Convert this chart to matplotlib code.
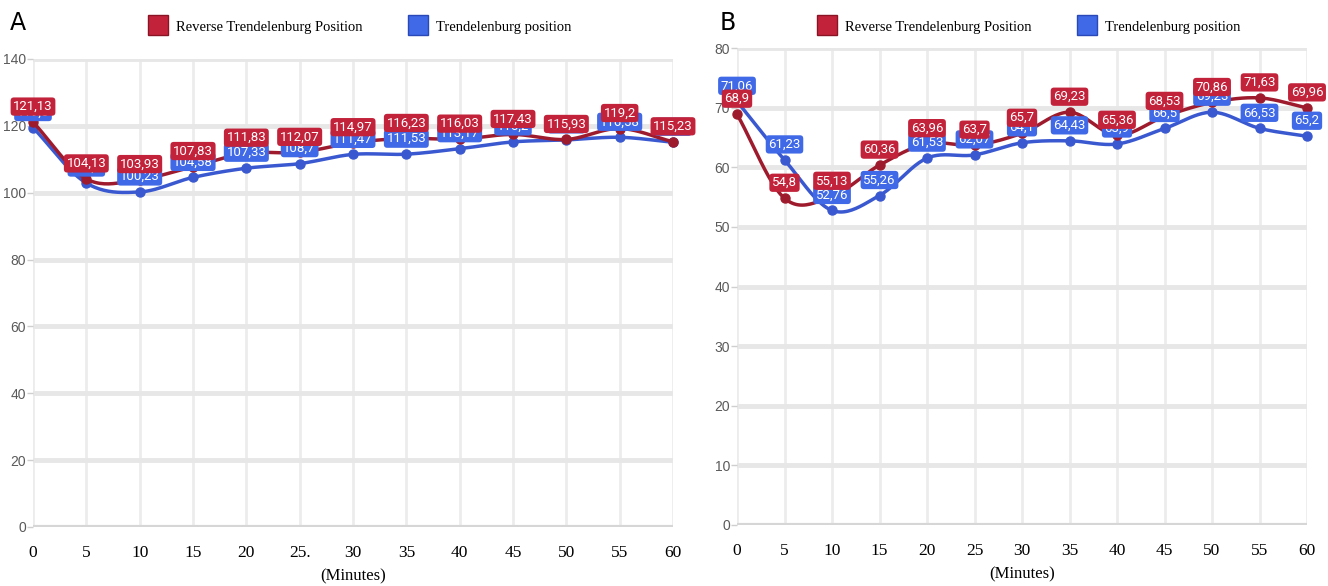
import numpy as np
import matplotlib
matplotlib.use('Agg')
import matplotlib.pyplot as plt
from matplotlib.lines import Line2D

minutes = [0, 5, 10, 15, 20, 25, 30, 35, 40, 45, 50, 55, 60]
ticks_a = ['0', '5', '10', '15', '20', '25.', '30', '35', '40', '45', '50', '55', '60']
ticks_b = [str(m) for m in minutes]

# panel A
reverse_a = [121.13, 104.13, 103.93, 107.83, 111.83, 112.07, 114.97, 116.23, 116.03, 117.43, 115.93, 119.2, 115.23]
trend_a = [119.5, 102.9, 100.23, 104.58, 107.33, 108.7, 111.47, 111.53, 113.17, 115.2, 115.8, 116.58, 115.1]
# panel B
reverse_b = [68.9, 54.8, 55.13, 60.36, 63.96, 63.7, 65.7, 69.23, 65.36, 68.53, 70.86, 71.63, 69.96]
trend_b = [71.06, 61.23, 52.76, 55.26, 61.53, 62.07, 64.1, 64.43, 63.9, 66.5, 69.23, 66.53, 65.2]

series_names = ['Reverse Trendelenburg Position', 'Trendelenburg position']

RED_LINE = '#9e1b2d'
RED_BOX = '#c2233b'
BLUE_LINE = '#3a59d0'
BLUE_BOX = '#3f69e6'
SERIF = 'Liberation Serif'
LABEL_FONT = ['Liberation Sans Narrow', 'Roboto']


def smooth(x, y, n=24):
    # catmull-rom curve through the points, only for drawing the line
    x = np.asarray(x, float)
    y = np.asarray(y, float)
    px = np.concatenate([[2 * x[0] - x[1]], x, [2 * x[-1] - x[-2]]])
    py = np.concatenate([[2 * y[0] - y[1]], y, [2 * y[-1] - y[-2]]])
    t = np.linspace(0, 1, n, endpoint=False)
    xs, ys = [], []
    for i in range(1, len(px) - 2):
        for p, out in ((px, xs), (py, ys)):
            p0, p1, p2, p3 = p[i - 1], p[i], p[i + 1], p[i + 2]
            out.extend(0.5 * (2 * p1 + (p2 - p0) * t
                              + (2 * p0 - 5 * p1 + 4 * p2 - p3) * t ** 2
                              + (3 * p1 - p0 - 3 * p2 + p3) * t ** 3))
    xs.append(x[-1])
    ys.append(y[-1])
    return xs, ys


def fmt(v):
    return ('%g' % v).replace('.', ',')


def panel(ax, rev, tre, ymax, ystep, xlabels):
    ax.set_xlim(0, 60)
    ax.set_ylim(0, ymax)
    for s in ax.spines.values():
        s.set_visible(False)
    ax.set_yticks(np.arange(0, ymax + 1, ystep))
    ax.set_xticks(minutes)
    ax.set_xticklabels(xlabels, family=SERIF, fontsize=12.5)
    ax.tick_params(axis='x', length=0, pad=13)
    ax.tick_params(axis='y', length=4, width=1, color='#cfcfcf', pad=1,
                   labelsize=10, labelcolor='#5a5a5a')
    for lab in ax.get_yticklabels():
        lab.set_family('Liberation Sans')
    ax.grid(axis='y', color='#e7e7e7', lw=3.5, zorder=0)
    ax.grid(axis='x', color='#ececec', lw=2, zorder=0)
    ax.axhline(0, color='#d6d6d6', lw=3, zorder=1)
    ax.set_axisbelow(True)
    ax.set_xlabel('(Minutes)', family=SERIF, fontsize=12, labelpad=5)

    for vals, line_c, box_c, z in ((tre, BLUE_LINE, BLUE_BOX, 3), (rev, RED_LINE, RED_BOX, 4)):
        sx, sy = smooth(minutes, vals)
        ax.plot(sx, sy, color=line_c, lw=2.5, zorder=z, clip_on=False)
        ax.plot(minutes, vals, 'o', ms=6.5, color=line_c, zorder=z, clip_on=False)
        for m, v in zip(minutes, vals):
            ax.annotate(fmt(v), (m, v), xytext=(0, 9), textcoords='offset pixels',
                        ha='center', va='bottom', fontsize=9.5, color='white',
                        family=LABEL_FONT, zorder=z + 5, annotation_clip=False,
                        bbox=dict(boxstyle='round,pad=0.2,rounding_size=0.25',
                                  fc=box_c, ec='none'))


def legend(fig, x, y):
    # one entry per legend so each square sits where it does in the original
    for name, fc, ec, dx in ((series_names[0], RED_BOX, '#8a1424', 0),
                             (series_names[1], BLUE_BOX, '#2a48b8', 260)):
        h = Line2D([], [], marker='s', ls='none', ms=14, mfc=fc, mec=ec, mew=1)
        fig.legend([h], [name], loc='center left',
                   bbox_to_anchor=((x + dx) / 1328, 1 - y / 586),
                   frameon=False, prop=dict(family=SERIF, size=10.5),
                   handlelength=1.35, handletextpad=0.55,
                   borderpad=0, borderaxespad=0)


fig = plt.figure(figsize=(13.28, 5.86), dpi=100)
ax_a = fig.add_axes([33 / 1328, 1 - 527 / 586, 640 / 1328, 468 / 586])
ax_b = fig.add_axes([737 / 1328, 1 - 525 / 586, 570 / 1328, 477 / 586])

panel(ax_a, reverse_a, trend_a, 140, 20, ticks_a)
panel(ax_b, reverse_b, trend_b, 80, 10, ticks_b)

legend(fig, 148, 27)
legend(fig, 817, 27)

fig.text(10 / 1328, 1 - 23 / 586, 'A', fontsize=17, va='center', ha='left')
fig.text(720 / 1328, 1 - 23 / 586, 'B', fontsize=17, va='center', ha='left')

fig.savefig('out.png')
